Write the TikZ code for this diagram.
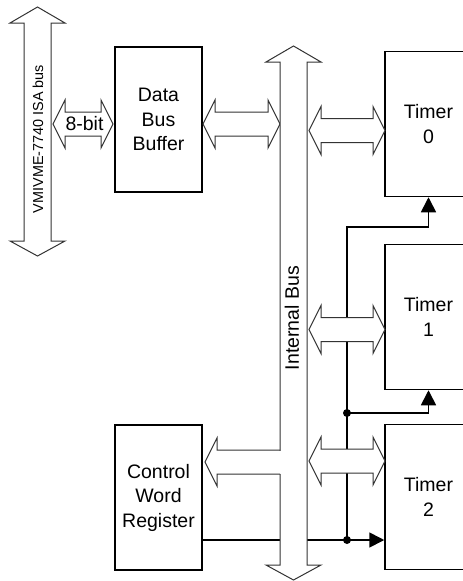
\documentclass[tikz,border=0pt]{standalone}
\usepackage{fontspec}
\setmainfont{Liberation Sans}
\usetikzlibrary{arrows.meta, positioning}

\tikzset{
  block/.style={draw, line width=1.5pt, minimum width=87pt, minimum height=145pt,
    inner sep=0pt, align=center, font=\fontsize{19.5}{24.5}\selectfont},
  busline/.style={draw=black!80, line width=1pt, fill=white},
  buslabel/.style={font=\fontsize{19.5}{24.5}\selectfont, inner sep=0pt},
  ctl/.style={line width=1.7pt},
  ctlarrow/.style={ctl, -{Triangle[length=15pt, width=15pt]}},
}

% hollow double arrow, lying: left tip x, right tip x, centre y
\newcommand{\hbus}[3]{%
  \draw[busline] (#1,#3) -- (#1+12,#3-24) -- (#1+12,#3-12) -- (#2-12,#3-12)
    -- (#2-12,#3-24) -- (#2,#3) -- (#2-12,#3+24) -- (#2-12,#3+12)
    -- (#1+12,#3+12) -- (#1+12,#3+24) -- cycle;}
% hollow double arrow, standing: centre x, top tip y, bottom tip y
\newcommand{\vbus}[3]{%
  \draw[busline] (#1,#2) -- (#1+27.5,#2+16) -- (#1+13.5,#2+16) -- (#1+13.5,#3-15)
    -- (#1+27.5,#3-15) -- (#1,#3) -- (#1-27.5,#3-15) -- (#1-13.5,#3-15)
    -- (#1-13.5,#2+16) -- (#1-27.5,#2+16) -- cycle;}

\begin{document}
\begin{tikzpicture}[x=1pt, y=-1pt]
\useasboundingbox (0,0) rectangle (463,581);
\clip (0,0) rectangle (463,581);

% blocks
\node[block] (dbb) at (158.5,119.5) {Data\\Bus\\Buffer};
\node[block] (cwr) at (158.5,497.5) {Control\\Word\\Register};
\node[block] (t0) at (428.5,124) {Timer\\0};
\node[block] (t1) at (428.5,317) {Timer\\1};
\node[block] (t2) at (428.5,497) {Timer\\2};

% control word lines to the timers
\coordinate (j1) at (347,540);
\coordinate (j2) at (347,413);
\coordinate (k0) at (347,227);
\draw[ctlarrow] (cwr.east |- j1) -- (t2.west |- j1);
\draw[ctlarrow] (j1) -- (k0) -| (t0.south);
\draw[ctlarrow] (j2) -| (t1.south);
\fill (j1) circle (4);
\fill (j2) circle (4);

% outside bus
\vbus{37.5}{7}{256}
\node[rotate=90, font=\fontsize{14.4}{16}\selectfont, inner sep=0pt] (isa) at (38,139) {VMIVME-7740 ISA bus};
\hbus{53}{113}{124}
\node[buslabel] (bits) at (84.5,124) {8-bit};

% internal bus and its branches
\hbus{203}{280}{124}
\hbus{309}{385}{130.5}
\hbus{309}{385}{329.5}
\hbus{309}{385}{461}
\vbus{293.5}{46}{580}
\node[buslabel, rotate=90] (ibus) at (292,318) {Internal Bus};
\fill[white] (217,450.5) rectangle (281,473.5);
\draw[busline, fill=none] (280,450) -- (217,450) -- (217,438) -- (205,462)
  -- (217,486) -- (217,474) -- (280,474);
\end{tikzpicture}
\end{document}
